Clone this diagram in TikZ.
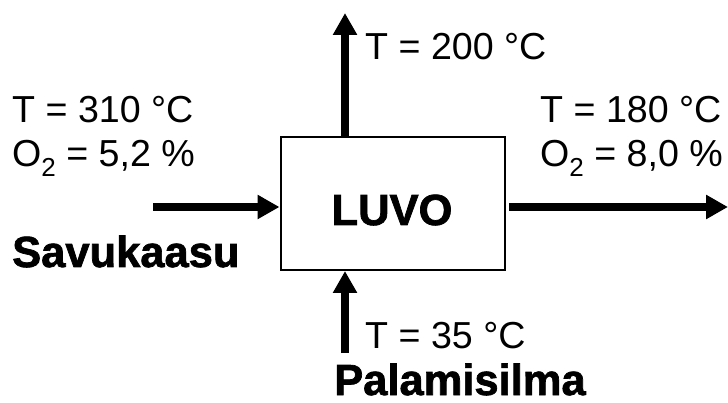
\documentclass[tikz,border=0pt]{standalone}
\usepackage{fontspec}
\setmainfont{Liberation Sans}
\newfontfamily\heavyfont[FakeBold=1.6]{Liberation Sans Bold}
\usetikzlibrary{arrows.meta}
\newcommand{\lbl}{\fontsize{37.6pt}{40pt}\selectfont}
\newcommand{\bld}{\fontsize{43.5pt}{46pt}\heavyfont}
\newcommand{\sub}[1]{\raisebox{-10pt}{\fontsize{26pt}{26pt}\selectfont #1}}
\begin{document}
\begin{tikzpicture}[x=1pt,y=-1pt,
  txt/.style={anchor=base west,inner sep=0pt,font=\lbl},
  btxt/.style={anchor=base west,inner sep=0pt,font=\bld},
  flow/.style={line width=8pt,-{Triangle[length=22pt,width=23pt]}},
  boxst/.style={draw,line width=2pt,minimum width=224pt,minimum height=133pt,inner sep=0pt}]
\useasboundingbox (0,0) rectangle (728,403);
\node[boxst] (luvo) at (392.5,203.5) {};
\node[anchor=base,inner sep=0pt,font=\bld] (luvot) at (392,225) {LUVO};
\coordinate (inL) at (153,207);
\coordinate (outRs) at (509,207);
\coordinate (outR) at (728,207);
\coordinate (up) at (345,13);
\coordinate (bot) at (345,353);
\draw[flow] (inL) -- (inL -| luvo.west);
\draw[flow] (outRs) -- (outR);
\draw[flow] (up |- luvo.north) -- (up);
\draw[flow] (bot) -- (bot |- luvo.south);
\node[txt] (t1) at (12,123) {T = 310 °C};
\node[txt] (o1) at (12,167) {O\sub{2} = 5,2 \%};
\node[btxt] (sav) at (12,267) {Savukaasu};
\node[txt] (t2) at (365,60) {T = 200 °C};
\node[txt] (t3) at (540,123) {T = 180 °C};
\node[txt] (o3) at (540,167) {O\sub{2} = 8,0 \%};
\node[txt] (t4) at (365,348) {T = 35 °C};
\node[btxt] (pal) at (334,395) {Palamisilma};
\end{tikzpicture}
\end{document}
